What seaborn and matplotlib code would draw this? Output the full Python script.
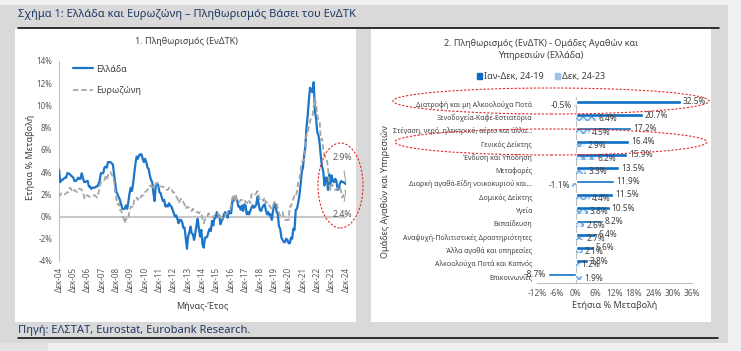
import numpy as np
import pandas as pd
import matplotlib.pyplot as plt
import seaborn as sns
from matplotlib.patches import Ellipse, Rectangle, Patch
from matplotlib.lines import Line2D

# ---- data: left chart (annual HICP % change, monthly Dec-04 .. Dec-24)
months = pd.date_range("2004-12-01", "2024-12-01", freq="MS")

greece = [
    4.2,
    3.1, 3.3, 3.3, 3.4, 3.5, 3.5, 3.9, 3.9, 3.8, 3.7, 3.6, 3.5,
    3.2, 3.2, 3.3, 3.5, 3.4, 3.4, 3.9, 3.5, 3.1, 3.1, 3.2, 3.2,
    2.7, 2.7, 2.5, 2.6, 2.6, 2.6, 2.7, 2.7, 2.9, 3.2, 3.9, 3.9,
    3.9, 4.4, 4.5, 4.4, 4.9, 4.9, 4.9, 4.8, 4.7, 3.9, 3.0, 2.2,
    2.0, 1.7, 1.5, 1.1, 0.7, 0.7, 0.7, 1.0, 0.7, 1.3, 2.1, 2.6,
    2.3, 3.0, 3.9, 4.8, 5.4, 5.2, 5.5, 5.6, 5.6, 5.2, 4.9, 5.2,
    4.9, 4.4, 4.3, 3.7, 3.3, 3.1, 2.1, 1.4, 2.9, 3.0, 2.8, 2.2,
    2.1, 1.7, 1.4, 1.5, 0.9, 1.0, 0.9, 1.2, 1.0, 0.9, 0.6, 0.3,
    0.0, 0.1, -0.2, -0.6, -0.3, -0.3, -0.5, -1.0, -1.0, -1.9, -2.9, -1.8,
    -1.4, -0.9, -1.5, -1.6, -2.1, -1.5, -0.8, -0.2, -1.1, -1.8, -1.2, -2.5,
    -2.8, -1.9, -1.9, -1.8, -1.4, -1.1, -1.3, -0.4, -0.8, -0.1, -0.1, 0.4,
    0.0, 0.1, -0.7, -0.4, -0.2, 0.2, 0.4, 0.2, -0.1, 0.5, 0.3, 0.3,
    1.5, 1.4, 1.7, 1.6, 1.5, 0.9, 0.9, 0.6, 1.0, 0.5, 1.1, 1.0,
    0.2, 0.4, 0.2, 0.5, 0.8, 1.0, 0.8, 0.9, 1.1, 1.8, 1.1, 0.6,
    0.5, 0.8, 1.0, 1.1, 0.6, 0.2, 0.4, 0.1, 0.2, -0.3, 0.5, 1.1,
    1.1, 0.4, 0.2, -0.9, -1.1, -1.9, -2.1, -2.3, -2.3, -2.0, -2.1, -2.4,
    -2.4, -1.9, -2.0, -1.1, -1.2, 0.6, 0.7, 1.2, 1.9, 2.8, 4.0, 4.4,
    5.5, 6.3, 8.0, 9.1, 10.5, 11.6, 11.3, 11.2, 12.1, 9.5, 8.8, 7.6,
    7.3, 6.5, 5.4, 4.5, 4.1, 2.8, 3.5, 3.5, 2.4, 3.8, 2.9, 3.7,
    3.2, 3.1, 3.4, 3.2, 2.4, 2.5, 3.0, 3.2, 3.1, 3.1, 3.0, 2.9,
]

eurozone = [
    2.1,
    1.9, 2.1, 2.1, 2.1, 2.0, 2.1, 2.2, 2.2, 2.6, 2.5, 2.3, 2.2,
    2.4, 2.3, 2.2, 2.5, 2.5, 2.5, 2.4, 2.3, 1.7, 1.6, 1.9, 1.9,
    1.8, 1.8, 1.9, 1.9, 1.9, 1.9, 1.8, 1.7, 2.1, 2.6, 3.1, 3.1,
    3.2, 3.3, 3.6, 3.3, 3.7, 4.0, 4.0, 3.8, 3.6, 3.2, 2.1, 1.6,
    1.1, 1.2, 0.6, 0.6, 0.0, -0.1, -0.6, -0.2, -0.3, -0.1, 0.5, 0.9,
    0.9, 0.8, 1.6, 1.6, 1.7, 1.5, 1.7, 1.6, 1.9, 1.9, 1.9, 2.2,
    2.3, 2.4, 2.7, 2.8, 2.7, 2.7, 2.6, 2.6, 3.0, 3.0, 3.0, 2.7,
    2.7, 2.7, 2.7, 2.6, 2.4, 2.4, 2.4, 2.6, 2.6, 2.5, 2.2, 2.2,
    2.0, 1.8, 1.7, 1.2, 1.4, 1.6, 1.6, 1.3, 1.1, 0.7, 0.9, 0.8,
    0.8, 0.7, 0.5, 0.7, 0.5, 0.5, 0.4, 0.4, 0.3, 0.4, 0.3, -0.2,
    -0.6, -0.3, -0.1, 0.0, 0.3, 0.2, 0.2, 0.1, -0.1, 0.1, 0.1, 0.2,
    0.3, -0.2, 0.0, -0.2, -0.1, 0.1, 0.2, 0.2, 0.4, 0.5, 0.6, 1.1,
    1.7, 2.0, 1.5, 1.9, 1.4, 1.3, 1.3, 1.5, 1.5, 1.4, 1.5, 1.3,
    1.3, 1.1, 1.4, 1.2, 2.0, 2.0, 2.1, 2.0, 2.1, 2.3, 1.9, 1.5,
    1.4, 1.5, 1.4, 1.7, 1.2, 1.3, 1.0, 1.0, 0.8, 0.7, 1.0, 1.3,
    1.4, 1.2, 0.7, 0.3, 0.1, 0.3, 0.4, -0.2, -0.3, -0.3, -0.3, -0.3,
    0.9, 0.9, 1.3, 1.6, 2.0, 1.9, 2.2, 3.0, 3.4, 4.1, 4.9, 5.0,
    5.1, 5.9, 7.4, 7.4, 8.1, 8.6, 8.9, 9.1, 9.9, 10.6, 10.1, 9.2,
    8.6, 8.5, 6.9, 7.0, 6.1, 5.5, 5.3, 5.2, 4.3, 2.9, 2.4, 2.9,
    2.8, 2.6, 2.4, 2.4, 2.6, 2.5, 2.6, 2.2, 1.7, 2.0, 2.2, 2.4,
]

year_ticks = pd.date_range("2004-12-01", "2024-12-01", freq="12MS")
year_labels = ["Δεκ-04", "Δεκ-05", "Δεκ-06", "Δεκ-07", "Δεκ-08", "Δεκ-09", "Δεκ-10",
               "Δεκ-11", "Δεκ-12", "Δεκ-13", "Δεκ-14", "Δεκ-15", "Δεκ-16", "Δεκ-17",
               "Δεκ-18", "Δεκ-19", "Δεκ-20", "Δεκ-21", "Δεκ-22", "Δεκ-23", "Δεκ-24"]
left_yticks = [-4, -2, 0, 2, 4, 6, 8, 10, 12, 14]

# ---- data: right chart (groups of goods and services, Greece)
categories = ["Διατροφή και μη Αλκοολούχα Ποτά", "Ξενοδοχεία-Καφέ-Εστιατόρια",
              "Στέγαση, νερό, ηλεκτρικό, αέριο και άλλα...", "Γενικός Δείκτης",
              "Ένδυση και Υπόδηση", "Μεταφορές", "Διαρκή αγαθά-Είδη νοικοκυριού και...",
              "Δομικός Δείκτης", "Υγεία", "Εκπαίδευση",
              "Αναψυχή-Πολιτιστικές Δραστηριότητες", "Άλλα αγαθά και υπηρεσίες",
              "Αλκοολούχα Ποτά και Καπνός", "Επικοινωνίες"]
cum_24_19 = [32.5, 20.7, 17.2, 16.4, 15.9, 13.5, 11.9, 11.5, 10.5, 8.2, 6.4, 5.6, 3.8, -8.7]
dec_24_23 = [-0.5, 6.4, 4.5, 2.9, 6.2, 3.3, -1.1, 4.4, 3.8, 2.6, 2.7, 2.1, 1.2, 1.9]
series_names = ["Ιαν-Δεκ, 24-19", "Δεκ, 24-23"]
right_xticks = [-12, -6, 0, 6, 12, 18, 24, 30, 36]

BLUE = "#1c75c8"
DARK_BLUE = "#0b6cc4"
LIGHT_BLUE = "#9cc3e8"
GREY = "#a6a6a6"
TXT = "#404040"
NAVY = "#1f3864"
RED = "#e02a2a"

sns.set_theme(style="white")
plt.rcParams["font.family"] = ["Noto Sans", "DejaVu Sans"]

W, H = 741, 351
def fx(x):
    return x / W
def fy(y):
    return 1 - y / H

fig = plt.figure(figsize=(7.41, 3.51), dpi=100, facecolor="#d9d9d9")

# page background pieces
def rect(x0, y0, x1, y1, color):
    fig.add_artist(Rectangle((fx(x0), fy(y1)), (x1 - x0) / W, (y1 - y0) / H,
                             transform=fig.transFigure, color=color, zorder=-5, lw=0))

rect(0, 0, W, 5, "#f0f0f0")
rect(728, 0, W, H, "#f0f0f0")
rect(0, 343, W, H, "#f0f0f0")
rect(0, 343, 48, H, "#e2e2e2")
rect(15, 29, 356, 322, "white")
rect(371, 29, 711, 322, "white")

fig.add_artist(Line2D([fx(18), fx(719)], [fy(28), fy(28)], color="black", lw=1.1))
fig.add_artist(Line2D([fx(18), fx(718)], [fy(338), fy(338)], color="black", lw=1.1))
fig.text(fx(18), fy(15), "Σχήμα 1: Ελλάδα και Ευρωζώνη – Πληθωρισμός Βάσει του ΕνΔΤΚ",
         ha="left", va="center", fontsize=8, color=NAVY)
fig.text(fx(18), fy(330), "Πηγή: ΕΛΣΤΑΤ, Eurostat, Eurobank Research.",
         ha="left", va="center", fontsize=8, color=NAVY)

# ---------------- left: line chart
ax1 = fig.add_axes([fx(59), fy(261), (346 - 59) / W, (261 - 61) / H])
ax1.patch.set_alpha(0)
ax1.axhline(0, color="#c8c8c8", lw=1.5, zorder=1)
sns.lineplot(x=months, y=greece, ax=ax1, color=BLUE, lw=1.6, label="Ελλάδα", zorder=3)
sns.lineplot(x=months, y=eurozone, ax=ax1, color=GREY, lw=1.3, linestyle=(0, (3, 1.6)),
             label="Ευρωζώνη", zorder=4)

ax1.set_ylim(-4, 14)
ax1.set_yticks(left_yticks)
ax1.set_yticklabels([f"{v}%" for v in left_yticks])
ax1.set_xlim(months[0], months[-1])
ax1.set_xticks(year_ticks)
ax1.set_xticklabels(year_labels, rotation=90)
ax1.tick_params(axis="x", length=0, pad=4, labelsize=5.8, colors="#595959")
ax1.tick_params(axis="y", length=0, pad=5, labelsize=5.8, colors="#595959")
for s in ["top", "right", "bottom"]:
    ax1.spines[s].set_visible(False)
ax1.spines["left"].set_color("#bfbfbf")
ax1.spines["left"].set_linewidth(0.8)

ax1.set_xlabel("Μήνας-Έτος", fontsize=6.5, color=TXT)
ax1.xaxis.set_label_coords(0.5, -0.205)
ax1.set_ylabel("Ετήσια % Μεταβολή", fontsize=6.5, color=TXT)
ax1.yaxis.set_label_coords(-0.084, 0.52)

ax1.legend(loc="upper left", bbox_to_anchor=(0.035, 1.0), frameon=False, fontsize=6.5,
           handlelength=2.3, labelspacing=1.4, handletextpad=0.3, borderaxespad=0,
           labelcolor=TXT)

arrow = dict(arrowstyle="-", color="#8c8c8c", lw=0.6, shrinkA=4, shrinkB=1)
ax1.annotate("2.9%", xy=(months[-1], greece[-1]), xytext=(-4, 27), textcoords="offset pixels",
             ha="center", va="center", fontsize=6.3, color="#595959", arrowprops=arrow)
ax1.annotate("2.4%", xy=(months[-1], eurozone[-1]), xytext=(-4, -25), textcoords="offset pixels",
             ha="center", va="center", fontsize=6.3, color="#595959", arrowprops=arrow)

fig.text(fx(186), fy(42), "1. Πληθωρισμός (ΕνΔΤΚ)", ha="center", va="center",
         fontsize=6.5, color=TXT)

# ---------------- right: bar chart
ax2 = fig.add_axes([fx(537), fy(283), (692 - 537) / W, (283 - 97) / H])
ax2.patch.set_alpha(0)
bars = pd.DataFrame({
    "cat": categories * 2,
    "value": cum_24_19 + dec_24_23,
    "period": [series_names[0]] * len(categories) + [series_names[1]] * len(categories),
})
sns.barplot(data=bars, y="cat", x="value", hue="period", orient="h", ax=ax2,
            palette=[DARK_BLUE, LIGHT_BLUE], width=0.55, saturation=1, legend=False, zorder=3)
for p in ax2.containers[1]:
    p.set_facecolor("#e4eef9")
    p.set_edgecolor("#6aa6dd")
    p.set_hatch("xxxx")
    p.set_linewidth(0)

for cont, vals in zip(ax2.containers, [cum_24_19, dec_24_23]):
    ax2.bar_label(cont, labels=[f"{v:.1f}%" for v in vals], padding=1.5,
                  fontsize=6, color=TXT)

ax2.axvline(0, color="#bfbfbf", lw=0.8, zorder=1)
ax2.set_xlim(-12, 36)
ax2.set_xticks(right_xticks)
ax2.set_xticklabels([f"{v}%" for v in right_xticks])
ax2.tick_params(axis="x", length=2, width=0.6, color="#bfbfbf", pad=2, labelsize=6,
                colors="#595959")
ax2.tick_params(axis="x", colors="#bfbfbf", labelcolor="#595959")
ax2.tick_params(axis="y", length=0, pad=3.5, labelsize=5, labelcolor=TXT)
for s in ["top", "right", "left"]:
    ax2.spines[s].set_visible(False)
ax2.spines["bottom"].set_color("#bfbfbf")
ax2.spines["bottom"].set_linewidth(0.8)

ax2.set_xlabel("Ετήσια % Μεταβολή", fontsize=6.5, color=TXT)
ax2.xaxis.set_label_coords(0.5, -0.095)
ax2.set_ylabel("Ομάδες Αγαθών και Υπηρεσιών", fontsize=6.5, color=TXT)
ax2.yaxis.set_label_coords(-0.95, 0.49)

fig.text(fx(541), fy(49.5), "2. Πληθωρισμός (ΕνΔΤΚ) - Ομάδες Αγαθών και\nΥπηρεσιών (Ελλάδα)",
         ha="center", va="center", fontsize=6.5, color=TXT, linespacing=1.35)
handles = [Patch(color=DARK_BLUE), Patch(color=LIGHT_BLUE)]
fig.legend(handles, series_names, loc="center", bbox_to_anchor=(fx(541), fy(77)), ncol=2,
           frameon=False, fontsize=6.5, handlelength=0.6, handleheight=0.6,
           handletextpad=0.2, columnspacing=1.2, labelcolor=TXT)

# red highlight rings
ring = dict(transform=fig.transFigure, fill=False, ec=RED, lw=0.8, ls=(0, (2, 1.5)), zorder=10)
fig.add_artist(Ellipse((fx(340.5), fy(185.5)), 45 / W, 85 / H, **ring))
fig.add_artist(Ellipse((fx(551), fy(101)), 316 / W, 26 / H, **ring))
fig.add_artist(Ellipse((fx(551), fy(142)), 312 / W, 26 / H, **ring))

fig.savefig("out.png", dpi=100, facecolor=fig.get_facecolor())
